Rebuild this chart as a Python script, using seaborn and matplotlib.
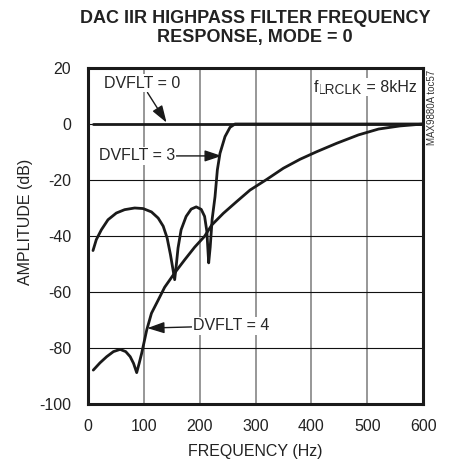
import matplotlib
matplotlib.use("Agg")
import matplotlib.pyplot as plt
from matplotlib import font_manager
import seaborn as sns
import pandas as pd

# frequency response (Hz, dB)
freq_dvflt0 = [10, 100, 200, 300, 400, 500, 600]
amp_dvflt0 = [0, 0, 0, 0, 0, 0, 0]

freq_dvflt3 = [9.5, 15.4, 24.4, 36.3, 51.2, 66, 84, 99, 114, 126, 135, 142, 148,
               152.5, 155.5, 158.5, 161.5, 167, 176, 185, 194, 203, 209, 213,
               216.3, 219, 222.5, 227.6, 231.8, 236.5, 245.5, 254.4, 263.4, 600]
amp_dvflt3 = [-45.2, -41.3, -37.8, -34.2, -31.8, -30.6, -30.0, -30.2, -31.4, -33.6,
              -36.5, -40.7, -46.7, -52.0, -55.6, -50.2, -44.3, -37.8, -33.0, -30.4,
              -29.6, -30.5, -33.0, -38.3, -49.6, -44.0, -34.0, -26.0, -16.4, -10.5,
              -4.5, -1.2, 0, 0]

freq_dvflt4 = [10, 22, 34, 46, 58, 68, 76, 82, 87.6, 92, 96.5, 105.5, 114, 126,
               137.6, 155.5, 173.4, 191.2, 209, 221.7, 242.5, 266.4, 290.2, 320,
               349.8, 379.6, 409.4, 445, 484, 520, 558, 600]
amp_dvflt4 = [-87.9, -85.3, -83.1, -81.3, -80.5, -81.3, -83.1, -85.5, -88.8, -85.5,
              -81.9, -73.6, -67.6, -62.9, -58.3, -53.2, -48.5, -44.0, -40.1, -36.1,
              -31.9, -27.7, -23.6, -19.8, -15.8, -12.6, -9.9, -6.9, -3.9, -1.8,
              -0.7, 0]

x_ticks = [0, 100, 200, 300, 400, 500, 600]
y_ticks = [20, 0, -20, -40, -60, -80, -100]

sns.set_style("white")
names = {f.name for f in font_manager.fontManager.ttflist}
if "Liberation Sans Narrow" in names:
    font = "Liberation Sans Narrow"
    fs, fs_title, fs_small = 13, 15.5, 8.5
else:
    font = "Liberation Sans"
    fs, fs_title, fs_small = 11.5, 13, 7
plt.rcParams["font.family"] = [font, "DejaVu Sans"]
plt.rcParams["axes.unicode_minus"] = False

fig = plt.figure(figsize=(4.49, 4.68), dpi=100)
ax = fig.add_axes([0.1953, 0.1368, 0.7475, 0.7179])

for fq, amp in [(freq_dvflt0, amp_dvflt0), (freq_dvflt3, amp_dvflt3), (freq_dvflt4, amp_dvflt4)]:
    d = pd.DataFrame({"freq": fq, "amp": amp})
    sns.lineplot(data=d, x="freq", y="amp", ax=ax, color="#1a1a1a", lw=2.0,
                 sort=False, zorder=3)

ax.set_xlim(0, 600)
ax.set_ylim(-100, 20)
ax.set_xticks(x_ticks)
ax.set_yticks(y_ticks)
ax.tick_params(length=0, labelsize=fs, colors="#222222")
ax.tick_params(axis="x", pad=11)
ax.tick_params(axis="y", pad=12)

for x in x_ticks[1:-1]:
    ax.axvline(x, color="#7a7a7a", lw=1.1, zorder=1)
for y in y_ticks[1:-1]:
    ax.axhline(y, color="#111111", lw=0.8, zorder=1)
for s in ax.spines.values():
    s.set_linewidth(2.2)
    s.set_color("#1a1a1a")

ax.set_xlabel("FREQUENCY (Hz)", fontsize=fs, color="#222222")
ax.set_ylabel("AMPLITUDE (dB)", fontsize=fs, color="#222222")
ax.xaxis.set_label_coords(0.5, -0.118)
ax.yaxis.set_label_coords(-0.162, 0.543)

fig.text(0.568, 0.940, "DAC IIR HIGHPASS FILTER FREQUENCY\nRESPONSE, MODE = 0",
         ha="center", va="center", fontsize=fs_title, fontweight="bold",
         linespacing=1.1, color="#222222")

box = dict(boxstyle="square,pad=0.1", fc="white", ec="none")
arrow = dict(arrowstyle="-|>,head_length=0.9,head_width=0.3", color="#1a1a1a",
             lw=1.0, shrinkA=0, shrinkB=0)
ax.annotate("DVFLT = 0", xy=(141, 0.5), xytext=(96.5, 14.5), ha="center", va="center",
            fontsize=fs, bbox=box, arrowprops=arrow, zorder=4)
ax.annotate("DVFLT = 3", xy=(239.6, -11.4), xytext=(87.6, -11.4), ha="center",
            va="center", fontsize=fs, bbox=box, arrowprops=arrow, zorder=4)
ax.annotate("DVFLT = 4", xy=(106.6, -72.9), xytext=(257, -72.1), ha="center",
            va="center", fontsize=fs, bbox=box, arrowprops=arrow, zorder=4)

t_main = ax.text(588.5, 11.5, " = 8kHz", ha="right", va="baseline", fontsize=fs,
                 bbox=box, zorder=4)
t_sub = ax.annotate("LRCLK", xy=(0, 0), xycoords=t_main, xytext=(0, -1.5),
                    textcoords="offset points", ha="right", va="bottom",
                    fontsize=fs * 0.85, bbox=box, zorder=4)
ax.annotate("f", xy=(0, 0), xycoords=t_sub, xytext=(0, 1.5),
            textcoords="offset points", ha="right", va="bottom", fontsize=fs,
            bbox=box, zorder=4)

fig.text(431.7 / 449, 1 - 107 / 468, "MAX9880A toc57", rotation=90, ha="center",
         va="center", fontsize=fs_small, color="#333333")

fig.savefig("out.png", dpi=100)
